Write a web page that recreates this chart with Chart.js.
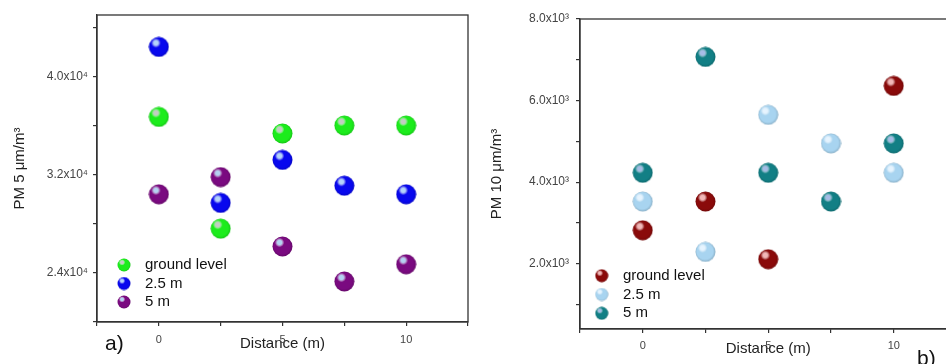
<!DOCTYPE html>
<html><head><meta charset="utf-8">
<script src="https://cdn.jsdelivr.net/npm/chart.js@4"></script>
<style>
html,body{margin:0;padding:0;background:#fff;overflow:hidden;width:946px;height:364px;position:relative;}
canvas{position:absolute;top:0;}
#ca{left:0}
#cb{left:480px}
.lab{position:absolute;font-family:"Liberation Sans",Arial,sans-serif;font-size:21px;line-height:21px;color:#111;}
</style></head><body>
<canvas id="ca" width="480" height="364"></canvas>
<canvas id="cb" width="490" height="364"></canvas>
<div class="lab" style="left:105px;top:332px">a)</div>
<div class="lab" style="left:917px;top:347px">b)</div>
<script>
// ---- data ----
const distances = [0, 2.5, 5, 7.5, 10];
const seriesNames = ['ground level', '2.5 m', '5 m'];
const pm5Ground = [36700, 27600, 35350, 36000, 36000];
const pm5At2p5  = [42400, 29700, 33200, 31100, 30400];
const pm5At5    = [30400, 31800, 26150, 23300, 24700];
const pm10Ground = [2820, 3525, 2110, null, 6360];
const pm10At2p5  = [3525, 2290, 5650, 4950, 4230];
const pm10At5    = [4230, 7070, 4230, 3525, 4950];
const xTickValues = [-2.5, 0, 2.5, 5, 7.5, 10, 12.5];
const xTickLabels = ['', '0', '', '5', '', '10', ''];
const yTickValuesA = [20000, 24000, 28000, 32000, 36000, 40000, 44000];
const yTickLabelsA = ['', '2.4x10\u2074', '', '3.2x10\u2074', '', '4.0x10\u2074', ''];
const yTickValuesB = [1000, 2000, 3000, 4000, 5000, 6000, 7000, 8000];
const yTickLabelsB = ['', '2.0x10\u00B3', '', '4.0x10\u00B3', '', '6.0x10\u00B3', '', '8.0x10\u00B3'];
const xTitle = 'Distance (m)';
const yTitleA = 'PM 5 \u03BCm/m\u00B3';
const yTitleB = 'PM 10 \u03BCm/m\u00B3';

Chart.defaults.font.family = '"Liberation Sans", Arial, sans-serif';

function sphere(base, hl, d) {
  const c = document.createElement('canvas');
  c.width = c.height = d;
  const g = c.getContext('2d');
  const r = d / 2;
  const body = g.createRadialGradient(r * 0.8, r * 0.75, r * 0.1, r, r, r);
  body.addColorStop(0, base);
  body.addColorStop(0.75, base);
  body.addColorStop(1, shade(base, 0.8));
  g.fillStyle = body;
  g.beginPath(); g.arc(r, r, r - 0.5, 0, Math.PI * 2); g.fill();
  const hx = r * 0.72, hy = r * 0.62, hr = r * 0.45;
  const spot = g.createRadialGradient(hx, hy, 0, hx, hy, hr);
  spot.addColorStop(0, hl);
  spot.addColorStop(0.45, hl);
  spot.addColorStop(1, 'rgba(255,255,255,0)');
  g.fillStyle = spot;
  g.beginPath(); g.arc(hx, hy, hr, 0, Math.PI * 2); g.fill();
  return c;
}
function shade(hex, f) {
  const n = parseInt(hex.slice(1), 16);
  const r = Math.round(((n >> 16) & 255) * f), gg = Math.round(((n >> 8) & 255) * f), b = Math.round((n & 255) * f);
  return 'rgb(' + r + ',' + gg + ',' + b + ')';
}

const framePlugin = {
  id: 'frame',
  afterDatasetsDraw(chart) {
    const a = chart.chartArea, ctx = chart.ctx;
    ctx.save();
    ctx.strokeStyle = '#333';
    ctx.lineWidth = 1.3;
    ctx.strokeRect(a.left, a.top, a.right - a.left, a.bottom - a.top);
    ctx.restore();
  }
};
const legendPlugin = {
  id: 'sphereLegend',
  afterDatasetsDraw(chart, args, opts) {
    const ctx = chart.ctx, a = chart.chartArea;
    const n = chart.data.datasets.length;
    ctx.save();
    ctx.font = '15px "Liberation Sans", Arial, sans-serif';
    ctx.fillStyle = '#111';
    ctx.textBaseline = 'middle';
    chart.data.datasets.forEach((ds, i) => {
      const y = a.bottom - opts.bottomGap - (n - 1 - i) * opts.rowGap;
      const x = a.left + opts.dx;
      const img = ds.legendImage;
      ctx.drawImage(img, x - img.width / 2, y - img.height / 2);
      ctx.fillText(ds.label, x + opts.textDx, y);
    });
    ctx.restore();
  }
};

function pts(arr) {
  return distances.map((x, i) => ({ x: x, y: arr[i] })).filter(p => p.y !== null);
}

function makeChart(id, cfg) {
  const datasets = cfg.series.map((s, i) => ({
    label: seriesNames[i],
    data: pts(s.values),
    pointStyle: sphere(s.color, s.hl, 21),
    legendImage: sphere(s.color, s.hl, 14),
    pointRadius: 10,
    pointHoverRadius: 10,
    showLine: false
  }));
  return new Chart(document.getElementById(id), {
    type: 'scatter',
    data: { datasets },
    plugins: [framePlugin, legendPlugin],
    options: {
      responsive: false,
      animation: false,
      events: [],
      layout: { padding: cfg.padding },
      plugins: {
        legend: { display: false },
        tooltip: { enabled: false },
        sphereLegend: cfg.legend
      },
      scales: {
        x: {
          type: 'linear', min: -2.5, max: 12.5,
          afterBuildTicks: s => { s.ticks = xTickValues.map(v => ({ value: v })); },
          afterFit: s => { s.height = cfg.xHeight; },
          grid: { drawOnChartArea: false, drawTicks: true, tickLength: 4, color: '#333', lineWidth: 1.2 },
          border: { color: '#333', width: 1.3 },
          ticks: { autoSkip: false, maxRotation: 0, padding: cfg.xTickPad, color: '#444', font: { size: 11 },
                   callback: (v, i) => xTickLabels[i] },
          title: { display: true, text: xTitle, color: '#222', font: { size: 15 }, padding: { top: 0, bottom: cfg.xTitlePad } }
        },
        y: {
          type: 'linear', min: cfg.yMin, max: cfg.yMax,
          afterBuildTicks: s => { s.ticks = cfg.yTicks.map(v => ({ value: v })); },
          afterFit: s => { s.width = cfg.yWidth; },
          grid: { drawOnChartArea: false, drawTicks: true, tickLength: 4, color: '#333', lineWidth: 1.2 },
          border: { color: '#333', width: 1.3 },
          ticks: { autoSkip: false, padding: cfg.yTickPad, color: '#444', font: { size: 12 },
                   callback: (v, i) => cfg.yLabels[i] },
          title: { display: true, text: cfg.yTitle, color: '#222', font: { size: 15 }, padding: { top: cfg.yTitlePad, bottom: 0 } }
        }
      }
    }
  });
}

makeChart('ca', {
  series: [
    { values: pm5Ground, color: '#1cec1c', hl: '#c4ccc4' },
    { values: pm5At2p5, color: '#0808ee', hl: '#b4d4fa' },
    { values: pm5At5, color: '#7a0a80', hl: '#b4d2f2' }
  ],
  padding: { left: 0, top: 15, right: 12, bottom: 0 },
  xHeight: 42, yWidth: 97,
  xTickPad: 7, xTitlePad: 11, yTickPad: 5, yTitlePad: 11,
  yMin: 20000, yMax: 45000, yTicks: yTickValuesA, yLabels: yTickLabelsA, yTitle: yTitleA,
  legend: { dx: 27, bottomGap: 20, rowGap: 18.5, textDx: 21 }
});
makeChart('cb', {
  series: [
    { values: pm10Ground, color: '#8a0a0a', hl: '#f2b8b8' },
    { values: pm10At2p5, color: '#a8d4f0', hl: '#e6f4ff' },
    { values: pm10At5, color: '#127f85', hl: '#a6bce6' }
  ],
  padding: { left: 0, top: 19, right: 13.5, bottom: 0 },
  xHeight: 35, yWidth: 100,
  xTickPad: 6, xTitlePad: 6.5, yTickPad: 7, yTitlePad: 8,
  yMin: 400, yMax: 8000, yTicks: yTickValuesB, yLabels: yTickLabelsB, yTitle: yTitleB,
  legend: { dx: 21.7, bottomGap: 15.7, rowGap: 18.8, textDx: 21.3 }
});
</script>
</body></html>
